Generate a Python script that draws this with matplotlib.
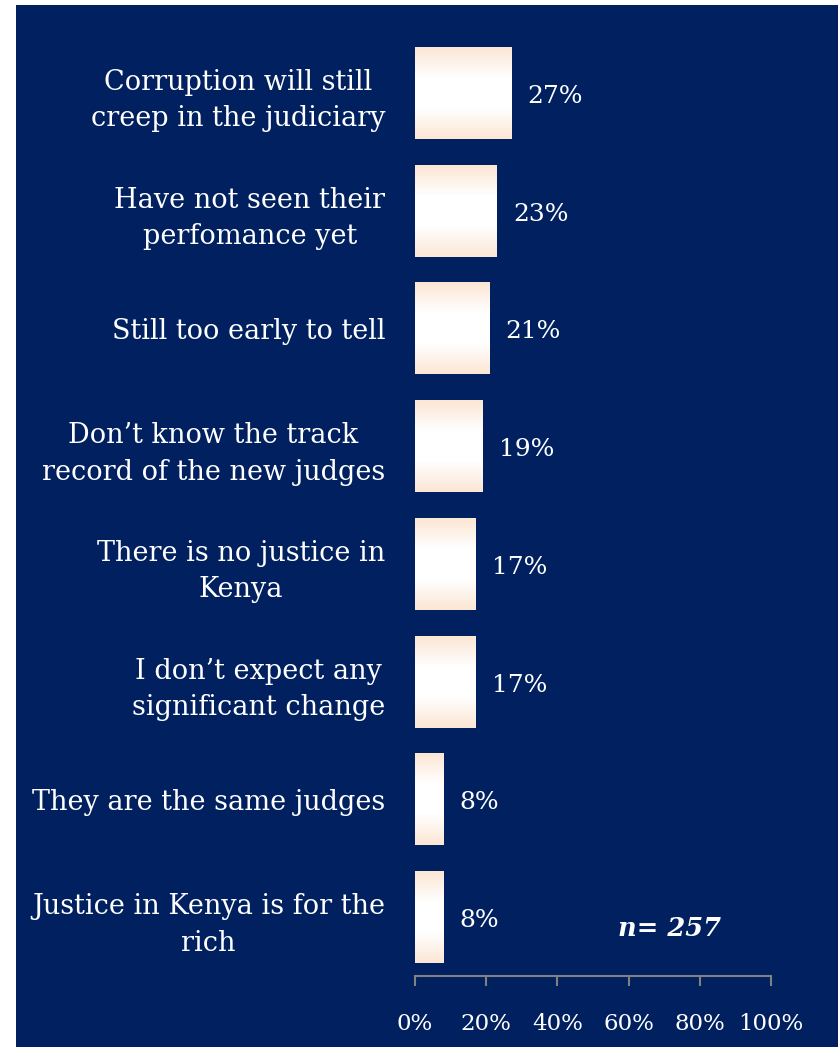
import numpy as np
import matplotlib.pyplot as plt
from matplotlib.colors import LinearSegmentedColormap

# donnees du sondage (pourcentages)
categories = [
    "Corruption will still\ncreep in the judiciary",
    "Have not seen their\nperfomance yet",
    "Still too early to tell",
    "Don\u2019t know the track\nrecord of the new judges",
    "There is no justice in\nKenya",
    "I don\u2019t expect any\nsignificant change",
    "They are the same judges",
    "Justice in Kenya is for the\nrich",
]
values = [27, 23, 21, 19, 17, 17, 8, 8]
tick_values = [0, 20, 40, 60, 80, 100]
tick_labels = ["0%", "20%", "40%", "60%", "80%", "100%"]
sample_note = "n= 257"

navy = "#00205F"
peach = "#FCE6D4"
font = ["DejaVu Serif"]

fig = plt.figure(figsize=(8.38, 10.47), dpi=100)
fig.patch.set_facecolor("white")
# fond bleu (marge blanche a gauche et en haut)
fig.patches.append(plt.Rectangle((16 / 838, 0), 1, 1 - 5 / 1047, transform=fig.transFigure,
                                 facecolor=navy, edgecolor="none", zorder=-5))

ax = fig.add_axes([415 / 838, 1 - 976 / 1047, 356 / 838, (976 - 34) / 1047])
ax.set_facecolor("none")

y = np.arange(len(categories))
bars = ax.barh(y, values, height=0.78, color="none", edgecolor="none")

# degrade vertical peche -> blanc -> peche
cmap = LinearSegmentedColormap.from_list("grad", [peach, "white", "white", peach],)
grad = np.linspace(0, 1, 256).reshape(-1, 1)
for b in bars:
    x0, y0 = b.get_x(), b.get_y()
    w, h = b.get_width(), b.get_height()
    im = ax.imshow(grad, cmap=cmap, aspect="auto", extent=(x0, x0 + w, y0 + h, y0),
                   interpolation="bilinear", zorder=2)
    im.set_clip_path(b)

for yi, v in zip(y, values):
    ax.text(v + 4.5, yi + 0.03, f"{v}%", color="white", va="center", ha="left",
            fontsize=18, family=font)

ax.set_xlim(0, 100)
ax.set_ylim(len(categories) - 0.5, -0.5)
ax.set_yticks(y)
ax.set_yticklabels(categories, color="white", fontsize=19.5, family=font,
                   linespacing=1.45, multialignment="center")
ax.tick_params(axis="y", length=0, pad=21.5)
ax.set_xticks(tick_values)
ax.set_xticklabels(tick_labels, color="white", fontsize=16.5, family=font)
ax.tick_params(axis="x", direction="out", length=7.5, width=1.5, color="#808080", pad=19)

for s in ["top", "right", "left"]:
    ax.spines[s].set_visible(False)
ax.spines["bottom"].set_color("#808080")
ax.spines["bottom"].set_linewidth(1.5)

ax.text(57, 7.1, sample_note, color="white", fontsize=18.5, fontweight="bold",
        fontstyle="italic", family=font, va="center", ha="left")

fig.savefig("out.png", dpi=100, facecolor=fig.get_facecolor())
